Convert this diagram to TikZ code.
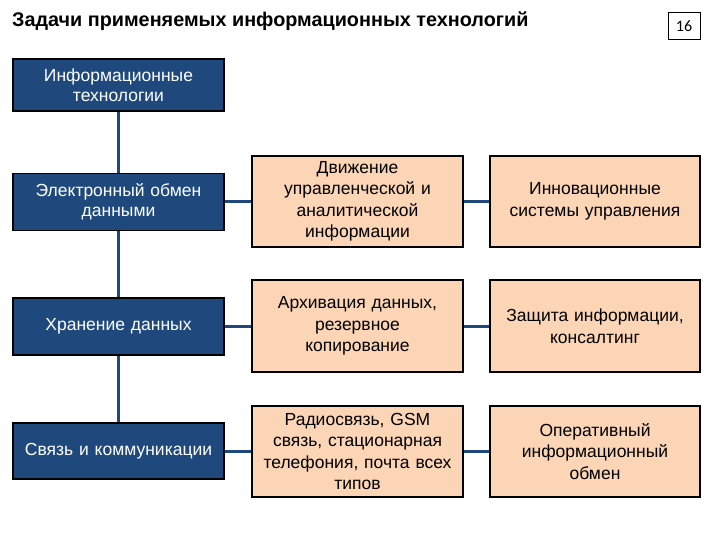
\documentclass[tikz,border=0pt]{standalone}
\usepackage{fontspec}
\setmainfont{Liberation Sans}
\newfontfamily\pagefont{Carlito}
\usetikzlibrary{positioning}
\definecolor{dkblue}{RGB}{31,73,125}
\definecolor{peach}{RGB}{251,213,181}
\begin{document}
\begin{tikzpicture}[x=1pt,y=-1pt,
  darkbox/.style={draw=black,line width=1.5pt,fill=dkblue,text=white,minimum width=211pt,text width=205pt,align=center,inner sep=0pt,font=\fontsize{17.5}{20}\selectfont},
  peachbox/.style={draw=black,line width=1.5pt,fill=peach,minimum width=211pt,minimum height=91pt,text width=205pt,align=center,inner sep=0pt,font=\fontsize{17.5}{21.5}\selectfont},
  link/.style={draw=dkblue,line width=3pt}]
\useasboundingbox (0,0) rectangle (720,540);
% title and page number
\node[anchor=base west,inner sep=0pt,font=\fontsize{19.8}{22}\selectfont\bfseries] (title) at (12,27) {Задачи применяемых информационных технологий};
\node[draw=black,line width=1pt,minimum width=32pt,minimum height=27pt,inner sep=0pt,font=\fontsize{16}{18}\pagefont] (page) at (684,26.5) {16};
% left column
\node[darkbox,minimum height=52pt] (it) at (118.5,85) {Информационные\\технологии};
\node[darkbox,minimum height=57pt] (edi) at (118.5,202) {Электронный обмен\\данными};
\node[darkbox,minimum height=57pt] (store) at (118.5,326.5) {Хранение данных};
\node[darkbox,minimum height=56pt] (comm) at (118.5,451) {Связь и коммуникации};
% middle column
\node[peachbox] (flow) at (357.5,201.5) {Движение\\управленческой и\\аналитической\\информации};
\node[peachbox,minimum height=92pt] (archive) at (357.5,326) {Архивация данных,\\резервное\\копирование};
\node[peachbox] (radio) at (357.5,451.5) {Радиосвязь, GSM\\связь, стационарная\\телефония, почта всех\\типов};
% right column
\node[peachbox,minimum width=210pt] (innov) at (595,201.5) {Инновационные\\системы управления};
\node[peachbox,minimum width=210pt,minimum height=92pt] (protect) at (595,326) {Защита информации,\\консалтинг};
\node[peachbox,minimum width=210pt] (oper) at (595,451.5) {Оперативный\\информационный\\обмен};
% connectors
\draw[link] (it) -- (edi);
\draw[link] (edi) -- (store);
\draw[link] (store) -- (comm);
\draw[link] (edi) -- (edi -| flow.west);
\draw[link] (store) -- (store -| archive.west);
\draw[link] (comm) -- (comm -| radio.west);
\draw[link] (flow) -- (innov);
\draw[link] (archive) -- (protect);
\draw[link] (radio) -- (oper);
\end{tikzpicture}
\end{document}
